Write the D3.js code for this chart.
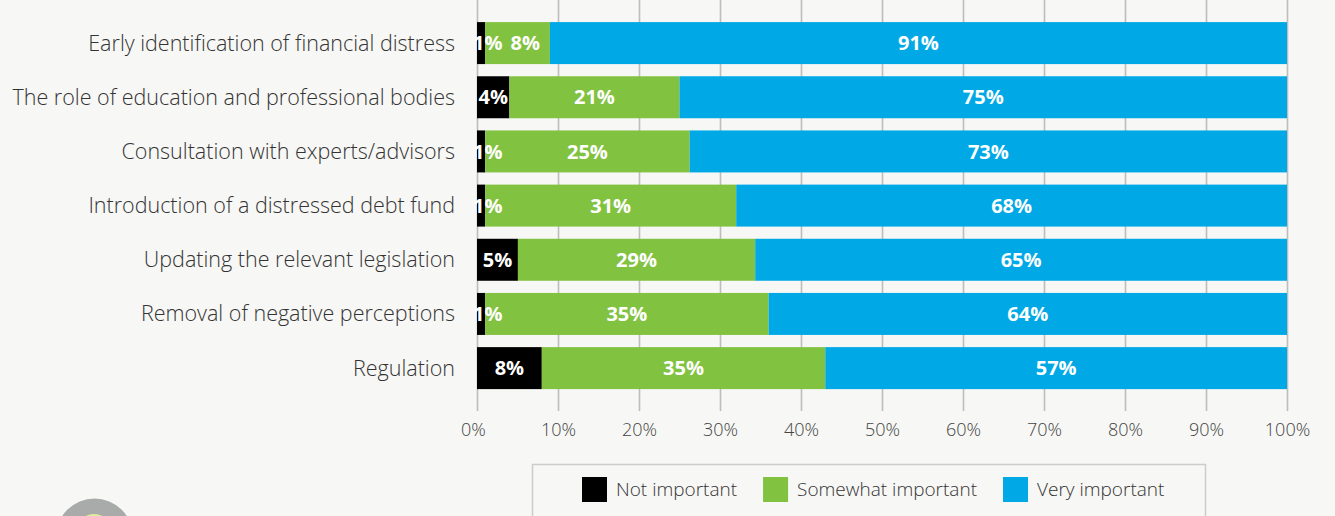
<!DOCTYPE html>
<html>
<head>
<meta charset="utf-8">
<script src="https://cdn.jsdelivr.net/npm/d3@7"></script>
<style>
  html, body { margin: 0; padding: 0; background: #f7f7f5; }
  svg { display: block; }
</style>
</head>
<body>
<svg id="chart" width="1335" height="516"></svg>
<script>
// Survey responses: importance of each measure (percent of respondents)
const categories = [
  "Early identification of financial distress",
  "The role of education and professional bodies",
  "Consultation with experts/advisors",
  "Introduction of a distressed debt fund",
  "Updating the relevant legislation",
  "Removal of negative perceptions",
  "Regulation"
];
const notImportant      = [1, 4, 1, 1, 5, 1, 8];
const somewhatImportant = [8, 21, 25, 31, 29, 35, 35];
const veryImportant     = [91, 75, 73, 68, 65, 64, 57];

const seriesKeys   = ["not", "somewhat", "very"];
const seriesNames  = ["Not important", "Somewhat important", "Very important"];
const seriesColors = ["#000000", "#82c241", "#00a9e5"];

const tickValues = [0, 0.1, 0.2, 0.3, 0.4, 0.5, 0.6, 0.7, 0.8, 0.9, 1];
const tickLabels = ["0%", "10%", "20%", "30%", "40%", "50%", "60%", "70%", "80%", "90%", "100%"];

const rows = categories.map((c, i) => ({
  category: c,
  not: notImportant[i],
  somewhat: somewhatImportant[i],
  very: veryImportant[i]
}));

const svg = d3.select("#chart");
const font = "'Open Sans', 'Noto Sans', sans-serif";

const x = d3.scaleLinear().domain([0, 1]).range([477, 1287]);
const y = d3.scaleBand()
  .domain(categories)
  .range([16, 395.2])
  .paddingInner(0.225)
  .paddingOuter(0.1125);
const color = d3.scaleOrdinal().domain(seriesKeys).range(seriesColors);

// each row is stretched to the full width
const stacked = d3.stack().keys(seriesKeys).offset(d3.stackOffsetExpand)(rows);

// gridlines + percent axis
const gridBottom = 411;
const axis = svg.append("g")
  .attr("transform", `translate(0,${gridBottom})`)
  .call(d3.axisBottom(x)
    .tickValues(tickValues)
    .tickFormat((d, i) => tickLabels[i])
    .tickSize(-gridBottom)
    .tickPadding(12));
axis.select(".domain").remove();
axis.selectAll(".tick line").attr("stroke", "#bdbdbd").attr("stroke-width", 1.6);
axis.selectAll(".tick text")
  .attr("fill", "#444")
  .attr("dx", (d, i) => i === 0 ? "-4" : "0")
  .style("font-family", font)
  .style("font-weight", 300)
  .style("font-size", "18px");

// stacked bars
const layers = svg.append("g").selectAll("g")
  .data(stacked)
  .join("g")
  .attr("fill", d => color(d.key));

layers.selectAll("rect")
  .data(d => d)
  .join("rect")
  .attr("x", d => x(d[0]))
  .attr("y", d => y(d.data.category))
  .attr("width", d => x(d[1]) - x(d[0]))
  .attr("height", y.bandwidth());

// value labels: centred in the segment, pinned to its left edge when the
// segment is narrower than the label, and nudged right to avoid touching
// the previous label in the same row
const labels = svg.append("g");
const rowRightEdge = new Map();
stacked.forEach(layer => {
  labels.selectAll(null)
    .data(layer)
    .join("text")
    .attr("y", d => y(d.data.category) + y.bandwidth() / 2)
    .attr("dy", "0.36em")
    .attr("text-anchor", "start")
    .attr("fill", "#ffffff")
    .style("font-family", font)
    .style("font-weight", 700)
    .style("font-size", "20px")
    .text(d => d.data[layer.key] + "%")
    .each(function (d) {
      const w = this.getComputedTextLength();
      const x0 = x(d[0]), x1 = x(d[1]);
      let left = (w > x1 - x0 + 4) ? x0 - 4 : (x0 + x1) / 2 - w / 2;
      const prev = rowRightEdge.get(d.data.category);
      if (prev !== undefined && left < prev + 8) left = prev + 8;
      d3.select(this).attr("x", left);
      rowRightEdge.set(d.data.category, left + w);
    });
});

// category labels
svg.append("g").selectAll("text")
  .data(categories)
  .join("text")
  .attr("x", 455)
  .attr("y", d => y(d) + y.bandwidth() / 2)
  .attr("dy", "0.35em")
  .attr("text-anchor", "end")
  .attr("fill", "#333")
  .style("font-family", font)
  .style("font-weight", 300)
  .style("font-size", "21.5px")
  .text(d => d);

// legend
const legend = svg.append("g");
legend.append("rect")
  .attr("x", 532.5).attr("y", 464.5)
  .attr("width", 673).attr("height", 80)
  .attr("fill", "none")
  .attr("stroke", "#cccccc")
  .attr("stroke-width", 1.5);

let lx = 582;
seriesKeys.forEach((k, i) => {
  legend.append("rect")
    .attr("x", lx).attr("y", 477)
    .attr("width", 25).attr("height", 25)
    .attr("fill", color(k));
  const t = legend.append("text")
    .attr("x", lx + 34)
    .attr("y", 496)
    .attr("fill", "#333")
    .style("font-family", font)
    .style("font-weight", 300)
    .style("font-size", "19px")
    .text(seriesNames[i]);
  lx += 34 + t.node().getComputedTextLength() + 26;
});

// round badge in the lower-left corner
svg.append("circle").attr("cx", 94.5).attr("cy", 537).attr("r", 38.5).attr("fill", "#a8abaa");
svg.append("circle").attr("cx", 94).attr("cy", 531).attr("r", 17).attr("fill", "#e3ec9c");
</script>
</body>
</html>
